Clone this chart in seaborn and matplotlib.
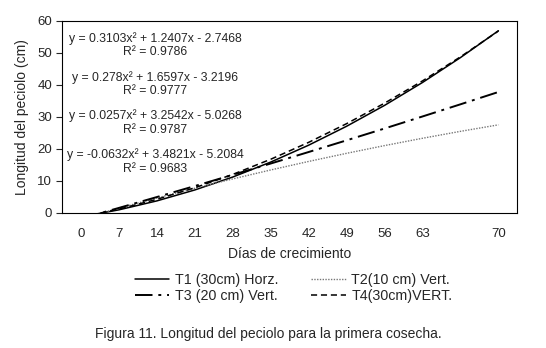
import seaborn as sns
import matplotlib.pyplot as plt
import numpy as np
import pandas as pd

# Categorías del eje x (eje de categorías tipo Excel, la 11 va sin etiqueta)
dias = ["0", "7", "14", "21", "28", "35", "42", "49", "56", "63", "", "70"]
pos = np.arange(1, len(dias) + 1)

t1 = [-1.20, 0.98, 3.77, 7.18, 11.21, 15.87, 21.14, 27.04, 33.55, 40.69, 48.45, 56.82]
t2 = [-1.79, 1.50, 4.67, 7.71, 10.62, 13.41, 16.07, 18.60, 21.01, 23.29, 25.45, 27.48]
t3 = [-1.75, 1.58, 4.97, 8.40, 11.89, 15.42, 19.01, 22.65, 26.34, 30.09, 33.88, 37.72]
t4 = [-1.28, 1.21, 4.26, 7.87, 12.03, 16.75, 22.02, 27.85, 34.24, 41.18, 48.68, 56.73]

nombres = ["T1 (30cm) Horz.", "T2(10 cm) Vert.", "T3 (20 cm) Vert.", "T4(30cm)VERT."]
ecuaciones = [
    "y = 0.3103x\u00b2 + 1.2407x - 2.7468\nR\u00b2 = 0.9786",
    "y = 0.278x\u00b2 + 1.6597x - 3.2196\nR\u00b2 = 0.9777",
    "y = 0.0257x\u00b2 + 3.2542x - 5.0268\nR\u00b2 = 0.9787",
    "y = -0.0632x\u00b2 + 3.4821x - 5.2084\nR\u00b2 = 0.9683",
]

sns.set_theme(style="white")
plt.rcParams["font.family"] = ["Liberation Sans", "DejaVu Sans"]

fig = plt.figure(figsize=(5.46, 3.48), dpi=100)
ax = fig.add_axes([0.1136, 0.388, 0.834, 0.553])

estilos = [
    dict(color="black", linestyle="-", linewidth=1.1),
    dict(color="#777777", linestyle=(0, (1, 1)), linewidth=1.0),
    dict(color="black", linestyle=(0, (9, 3, 1.5, 3)), linewidth=1.4),
    dict(color="black", linestyle=(0, (4, 2.5)), linewidth=1.1),
]

for serie, nombre, est in zip([t1, t2, t3, t4], nombres, estilos):
    sns.lineplot(x=pos, y=serie, ax=ax, label=nombre, **est)

ax.set_xlim(0.5, 12.5)
ax.set_ylim(0, 60)
ax.set_yticks([0, 10, 20, 30, 40, 50, 60])
ax.set_xticks(pos)
ax.set_xticklabels(dias)
ax.tick_params(axis="y", direction="out", length=4, width=0.8, labelsize=9.5, pad=3, left=True)
ax.tick_params(axis="x", length=0, labelsize=9.5, pad=11)
for s in ax.spines.values():
    s.set_color("black")
    s.set_linewidth(0.8)

ax.set_xlabel("Días de crecimiento", fontsize=10, labelpad=5)
ax.set_ylabel("Longitud del peciolo (cm)", fontsize=10, labelpad=6)

# Ecuaciones de las líneas de tendencia
y_eq = [0.872, 0.670, 0.470, 0.268]
for texto, yy in zip(ecuaciones, y_eq):
    ax.text(0.204, yy, texto, transform=ax.transAxes, ha="center", va="center",
            multialignment="center", fontsize=8.8, linespacing=1.2)

ax.get_legend().remove()
handles, labels = ax.get_legend_handles_labels()
orden = [0, 2, 1, 3]
fig.legend([handles[i] for i in orden], [labels[i] for i in orden], ncol=2,
           loc="center", bbox_to_anchor=(0.538, 0.172), frameon=False,
           fontsize=10.3, handlelength=2.4, handletextpad=0.4,
           columnspacing=2.3, labelspacing=0.12)

fig.text(0.491, 0.04, "Figura 11. Longitud del peciolo para la primera cosecha.",
         ha="center", va="center", fontsize=10)

fig.savefig("out.png", dpi=100)
